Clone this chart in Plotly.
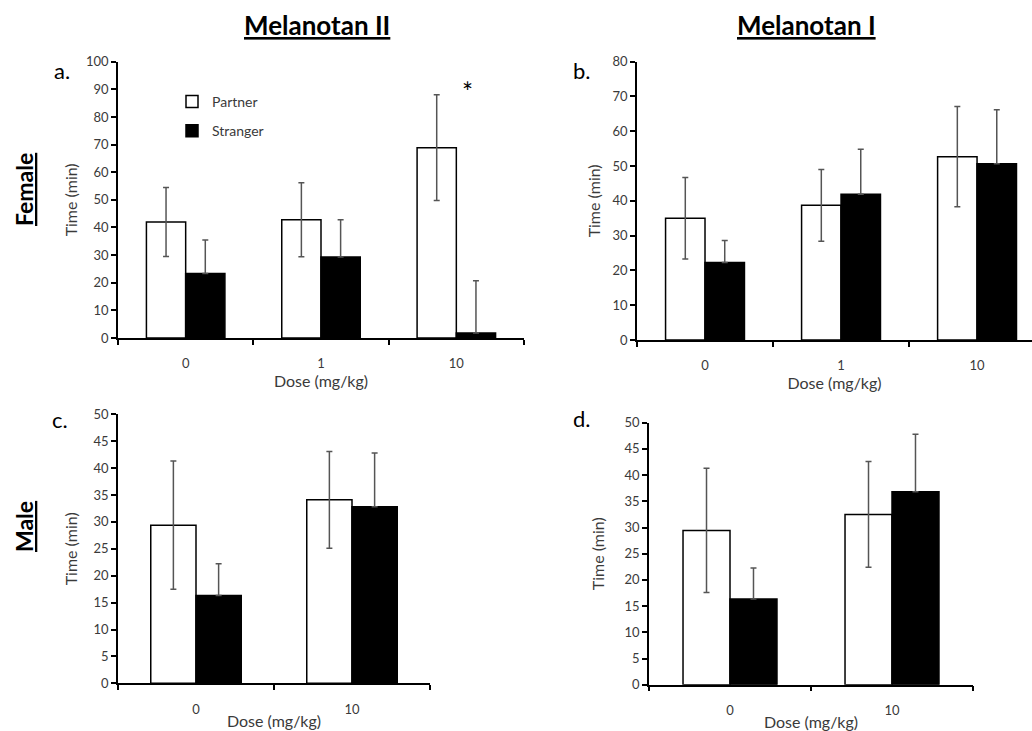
import plotly.graph_objects as go

# ---------------- data ----------------
doses_3 = ["0", "1", "10"]
doses_2 = ["0", "10"]

a_partner = [42.0, 42.8, 68.9]
a_partner_err = [12.5, 13.4, 19.1]
a_stranger = [23.3, 29.3, 1.8]
a_stranger_err = [12.2, 13.5, 18.9]

b_partner = [35.0, 38.7, 52.7]
b_partner_err = [11.7, 10.3, 14.4]
b_stranger = [22.3, 41.9, 50.7]
b_stranger_err = [6.3, 12.9, 15.5]

c_partner = [29.4, 34.1]
c_partner_err = [11.9, 9.0]
c_stranger = [16.3, 32.8]
c_stranger_err = [5.9, 10.0]

d_partner = [29.45, 32.5]
d_partner_err = [11.85, 10.1]
d_stranger = [16.35, 36.8]
d_stranger_err = [5.9, 11.0]

W, H = 1032, 731
FONT = "Lato"
TXT = "#3a3a3a"
ERRC = "#555555"

fig = go.Figure()

panels = [
    ("x", "y", doses_3, a_partner, a_partner_err, a_stranger, a_stranger_err, True),
    ("x2", "y2", doses_3, b_partner, b_partner_err, b_stranger, b_stranger_err, False),
    ("x3", "y3", doses_2, c_partner, c_partner_err, c_stranger, c_stranger_err, False),
    ("x4", "y4", doses_2, d_partner, d_partner_err, d_stranger, d_stranger_err, False),
]

for xa, ya, cats, p, pe, s, se, show in panels:
    fig.add_trace(go.Bar(
        x=cats, y=p, name="Partner", xaxis=xa, yaxis=ya,
        marker=dict(color="white", line=dict(color="black", width=1.5)),
        error_y=dict(type="data", array=pe, visible=True, color=ERRC, thickness=1.5, width=3),
        showlegend=show, legendgroup="partner",
    ))
    fig.add_trace(go.Bar(
        x=cats, y=s, name="Stranger", xaxis=xa, yaxis=ya,
        marker=dict(color="black", line=dict(color="black", width=1.5)),
        error_y=dict(type="data", array=se, arrayminus=[0] * len(se), symmetric=False,
                     visible=True, color=ERRC, thickness=1.5, width=3),
        showlegend=show, legendgroup="stranger",
    ))


def xax(domain, rng, standoff):
    return dict(domain=domain, type="category", range=rng, showline=True, linecolor="black",
                linewidth=1.5, ticks="outside", tickson="boundaries", ticklen=5, tickwidth=1.5,
                tickcolor="black", ticklabelstandoff=13, automargin=False, showgrid=False,
                zeroline=False, tickfont=dict(family=FONT, size=13, color=TXT),
                title=dict(text="Dose (mg/kg)", standoff=standoff,
                           font=dict(family=FONT, size=16, color=TXT)))


def yax(domain, top, dtick, anchor, standoff):
    return dict(domain=domain, range=[0, top], dtick=dtick, showline=True, linecolor="black",
                linewidth=1.5, ticks="outside", ticklen=5, tickwidth=1.5, tickcolor="black",
                anchor=anchor, automargin=False, showgrid=False, zeroline=False,
                tickfont=dict(family=FONT, size=13, color=TXT),
                title=dict(text="Time (min)", standoff=standoff,
                           font=dict(family=FONT, size=16, color=TXT)))


fig.update_layout(
    width=W, height=H,
    margin=dict(l=0, r=0, t=0, b=0),
    paper_bgcolor="white", plot_bgcolor="white",
    barmode="group", bargap=0.42, bargroupgap=0,
    font=dict(family=FONT, color=TXT),
    xaxis=dict(**xax([118 / W, 524 / W], [-0.5, 2.5], 0), anchor="y"),
    yaxis=yax([1 - 338 / H, 1 - 61.7 / H], 100, 10, "x", 4),
    xaxis2=dict(**xax([637 / W, 1.0], [-0.5, 2.404], 0), anchor="y2"),
    yaxis2=yax([1 - 340 / H, 1 - 61.7 / H], 80, 10, "x2", 8),
    xaxis3=dict(**xax([118 / W, 430 / W], [-0.5, 1.5], 0), anchor="y3"),
    yaxis3=yax([1 - 683.3 / H, 1 - 414.3 / H], 50, 5, "x3", 12),
    xaxis4=dict(**xax([649 / W, 973 / W], [-0.5, 1.5], 0), anchor="y4"),
    yaxis4=yax([1 - 684.7 / H, 1 - 422.7 / H], 50, 5, "x4", 16),
    legend=dict(x=172 / W, y=1 - 86 / H, xanchor="left", yanchor="top",
                bgcolor="rgba(0,0,0,0)", font=dict(family=FONT, size=14, color=TXT),
                tracegroupgap=8, itemwidth=30),
)

head = dict(family=FONT, size=26, color="black", weight="bold", lineposition="under")
side = dict(family=FONT, size=23, color="black", weight="bold", lineposition="under")
lab = dict(family=FONT, size=22, color="black")
ann = [
    dict(text="Melanotan II", x=317 / W, y=1 - 25 / H, font=head),
    dict(text="Melanotan I", x=806 / W, y=1 - 25 / H, font=head),
    dict(text="Female", x=24 / W, y=1 - 190 / H, textangle=-90, font=side),
    dict(text="Male", x=24 / W, y=1 - 527 / H, textangle=-90, font=side),
    dict(text="a.", x=62 / W, y=1 - 70 / H, font=lab),
    dict(text="b.", x=582 / W, y=1 - 70 / H, font=lab),
    dict(text="c.", x=60 / W, y=1 - 419 / H, font=lab),
    dict(text="d.", x=582 / W, y=1 - 418 / H, font=lab),
    dict(text="*", x=467 / W, y=1 - 92 / H, font=dict(family=FONT, size=26, color="black")),
]
for a in ann:
    a.update(xref="paper", yref="paper", showarrow=False, xanchor="center", yanchor="middle")
fig.update_layout(annotations=ann)

fig.write_html("out.html")
